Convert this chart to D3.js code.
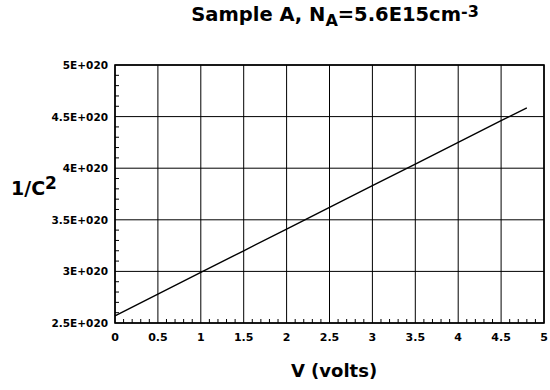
<!DOCTYPE html>
<html lang="en">
<head>
  <meta charset="UTF-8">
  <title>Sample A</title>
  <script src="https://d3js.org/d3.v7.min.js"></script>
  <style>
    body { margin: 0; background: #fff; }
    text { font-family: "DejaVu Sans", sans-serif; font-weight: bold; fill: #000; }
    .tick-label { font-size: 10.5px; }
    .grid line { stroke: #000; stroke-width: 1px; }
  </style>
</head>
<body>
  <div id="chart"></div>
  <script>
    // data
    const voltage = [0, 0.5, 1, 1.5, 2, 2.5, 3, 3.5, 4, 4.5, 4.8];
    const invC2 = [2.57e20, 2.78e20, 2.99e20, 3.20e20, 3.41e20, 3.62e20, 3.83e20, 4.04e20, 4.25e20, 4.46e20, 4.585e20];
    const xTicks = [0, 0.5, 1, 1.5, 2, 2.5, 3, 3.5, 4, 4.5, 5];
    const yTicks = [2.5e20, 3e20, 3.5e20, 4e20, 4.5e20, 5e20];

    const width = 550, height = 390;
    const margin = { top: 65, right: 6, bottom: 67, left: 115 };

    const svg = d3.select("#chart").append("svg")
      .attr("width", width)
      .attr("height", height);

    const x = d3.scaleLinear().domain([0, 5]).range([margin.left, width - margin.right]);
    const y = d3.scaleLinear().domain([2.5e20, 5e20]).range([height - margin.bottom, margin.top]);

    // grid
    svg.append("g").attr("class", "grid")
      .selectAll("line.v").data(xTicks).join("line")
      .attr("x1", d => x(d)).attr("x2", d => x(d))
      .attr("y1", y.range()[0]).attr("y2", y.range()[1]);
    svg.append("g").attr("class", "grid")
      .selectAll("line.h").data(yTicks).join("line")
      .attr("x1", x.range()[0]).attr("x2", x.range()[1])
      .attr("y1", d => y(d)).attr("y2", d => y(d));

    // minor ticks, pointing inward
    const xMinor = d3.range(0, 50).map(i => i / 10).filter(v => Math.round(v * 10) % 5 !== 0);
    const yMinor = d3.range(25, 50).map(i => i * 1e19).filter((v, i) => (i % 5) !== 0);
    svg.append("g").selectAll("line").data(xMinor).join("line")
      .attr("x1", d => x(d)).attr("x2", d => x(d))
      .attr("y1", y.range()[0]).attr("y2", y.range()[0] - 4)
      .attr("stroke", "#000");
    svg.append("g").selectAll("line").data(yMinor).join("line")
      .attr("x1", x.range()[0]).attr("x2", x.range()[0] + 4)
      .attr("y1", d => y(d)).attr("y2", d => y(d))
      .attr("stroke", "#000");

    // frame
    svg.append("rect")
      .attr("x", x.range()[0]).attr("y", y.range()[1])
      .attr("width", x.range()[1] - x.range()[0])
      .attr("height", y.range()[0] - y.range()[1])
      .attr("fill", "none").attr("stroke", "#000").attr("stroke-width", 1.6);

    // tick labels
    svg.append("g").selectAll("text").data(xTicks).join("text")
      .attr("class", "tick-label")
      .attr("x", d => x(d)).attr("y", y.range()[0] + 18)
      .attr("text-anchor", "middle")
      .style("font-size", "11px")
      .text(d => d);
    svg.append("g").selectAll("text").data(yTicks).join("text")
      .attr("class", "tick-label")
      .attr("x", x.range()[0] - 7).attr("y", d => y(d) + 4)
      .attr("text-anchor", "end")
      .text(d => (d / 1e20) + "E+020");

    // the line
    const line = d3.line().x((d, i) => x(voltage[i])).y(d => y(d));
    svg.append("path")
      .datum(invC2)
      .attr("d", line)
      .attr("fill", "none")
      .attr("stroke", "#000")
      .attr("stroke-width", 1.4);

    // title
    const title = svg.append("text")
      .attr("x", 335).attr("y", 21)
      .attr("text-anchor", "middle")
      .style("font-size", "19.5px");
    title.append("tspan").text("Sample A, N");
    title.append("tspan").attr("dy", 5).style("font-size", "16px").text("A");
    title.append("tspan").attr("dy", -5).text("=5.6E15cm");
    title.append("tspan").attr("dy", -4).style("font-size", "16px").text("-3");

    // axis titles
    svg.append("text")
      .attr("x", 334).attr("y", 377)
      .attr("text-anchor", "middle")
      .style("font-size", "18px")
      .text("V (volts)");

    const yt = svg.append("text")
      .attr("x", 11).attr("y", 195)
      .style("font-size", "19px");
    yt.append("tspan").text("1/C");
    yt.append("tspan").attr("dy", -6).style("font-size", "17px").text("2");
  </script>
</body>
</html>
